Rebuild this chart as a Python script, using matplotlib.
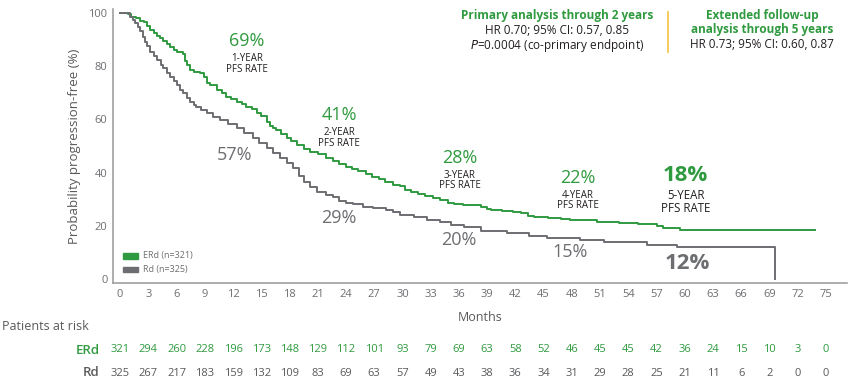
import matplotlib
matplotlib.use("Agg")
import matplotlib.pyplot as plt
import matplotlib.transforms as mtransforms
from matplotlib.patches import Rectangle

plt.rcParams['font.family'] = ['Open Sans', 'DejaVu Sans']

green = "#2f9a3f"
gray = "#6d6e71"
dark = "#231f20"

# Kaplan-Meier steps (month, % progression-free)
erd_t = [0, 0.8, 1.2, 1.7, 2.1, 2.5, 2.9, 3.2, 3.6, 3.9, 4.2, 4.6, 5.0, 5.3, 5.7, 6.0,
         6.7, 6.9, 7.1, 7.4, 7.8, 8.5, 8.9, 9.2, 9.6, 10.3, 10.8, 11.3, 11.8, 12.4, 12.9,
         13.4, 14.0, 14.5, 15.0, 15.6, 15.9, 16.3, 16.6, 17.1, 17.7, 18.2, 18.8, 19.5,
         20.2, 21.0, 21.9, 22.6, 23.3, 24.0, 24.6, 25.3, 26.1, 26.8, 27.5, 28.2, 29.0,
         29.7, 30.3, 30.9, 31.7, 32.4, 33.2, 34.0, 34.8, 35.5, 36.4, 38.3, 39.0, 39.4,
         40.6, 41.8, 42.6, 43.3, 44.0, 45.5, 46.8, 47.8, 50.7, 53.0, 55.0, 57.0, 57.7,
         59.5, 73.8]
erd_s = [100, 99.5, 98.7, 98, 97.2, 96.5, 95, 93.7, 92.5, 91.5, 90.6, 89.5, 88.3, 87.4,
         86.2, 85.3, 84.5, 82, 80.5, 78.6, 78, 77.4, 76, 73.6, 72.8, 71.1, 70, 68.6, 67.7,
         66.7, 65.8, 64.8, 63.8, 62.3, 61.2, 59.2, 57.5, 56.8, 56, 54.5, 52.9, 51.8, 50.4,
         48.8, 47.9, 46.8, 45.4, 44.3, 43.2, 42, 41.3, 40.5, 39.4, 38.5, 37.4, 36.5, 35.5,
         35, 33.6, 32.8, 31.8, 31, 30.4, 29.5, 28.6, 28.2, 27.6, 27.1, 26.4, 25.9, 25.4,
         25, 24.6, 23.8, 23.1, 22.8, 22.4, 22.1, 21.5, 21.1, 20.6, 20, 19.2, 18.3, 18.3]

rd_t = [0, 1.1, 1.4, 1.6, 1.9, 2.1, 2.4, 2.65, 2.9, 3.2, 3.6, 3.9, 4.3, 4.6, 5.0, 5.3,
        5.7, 6.0, 6.4, 6.7, 7.1, 7.4, 7.8, 8.1, 8.6, 9.2, 9.9, 10.6, 11.5, 12.4, 13.2,
        14.1, 14.8, 15.6, 16.3, 17.0, 17.7, 18.4, 19.0, 19.5, 20.2, 20.9, 21.9, 22.6,
        23.3, 24.0, 24.7, 25.8, 26.9, 28.3, 29.0, 29.7, 31.2, 32.6, 34.0, 35.2, 36.5,
        38.3, 41.1, 43.5, 45.4, 48.9, 51.4, 56.0, 59.2, 69.6, 69.6]
rd_s = [100, 98.7, 97.5, 96.2, 94.8, 93.1, 91.2, 89.3, 87.5, 85.5, 83.8, 82.4, 80.5,
        79.3, 77.5, 76.1, 74.5, 73, 71.2, 69.9, 68.2, 66.7, 65.5, 64.8, 63.5, 62.3, 61,
        59.8, 58.2, 56.7, 54.8, 52.9, 51, 49.1, 47.2, 45.4, 43.5, 41.6, 38.8, 36.5, 34.6,
        32.8, 31.5, 30.9, 29.4, 28.4, 28.1, 27.2, 26.5, 25.9, 25, 24, 23.4, 22.1, 21.3,
        20.4, 19.6, 18.1, 17.1, 16.3, 15.2, 14.6, 13.9, 12.7, 11.8, 11.8, 0]

months = list(range(0, 76, 3))
erd_risk = [321, 294, 260, 228, 196, 173, 148, 129, 112, 101, 93, 79, 69, 63, 58, 52,
            46, 45, 45, 42, 36, 24, 15, 10, 3, 0]
rd_risk = [325, 267, 217, 183, 159, 132, 109, 83, 69, 63, 57, 49, 43, 38, 36, 34, 31,
           29, 28, 25, 21, 11, 6, 2, 0, 0]

fig = plt.figure(figsize=(8.5, 3.81), dpi=100)
ax = fig.add_axes([0.133, 0.257, 0.863, 0.719])

ax.step(erd_t, erd_s, where='post', color=green, lw=1.4)
ax.step(rd_t, rd_s, where='post', color=gray, lw=1.4)

ax.set_xlim(-0.75, 77.2)
ax.set_ylim(-1.6, 101.5)
ax.set_xticks(months)
ax.set_yticks([0, 20, 40, 60, 80, 100])
ax.tick_params(length=0, labelsize=8, colors="#6d6e71", pad=4)
for s in ['top', 'right']:
    ax.spines[s].set_visible(False)
for s in ['left', 'bottom']:
    ax.spines[s].set_color("#9d9fa2")
    ax.spines[s].set_linewidth(1.2)

ax.set_ylabel("Probability progression-free (%)", fontsize=9.5, color="#58595b", labelpad=5)
ax.set_xlabel("Months", fontsize=9, color="#58595b", labelpad=8)

# legend
ax.add_patch(Rectangle((0.3, 7.6), 1.6, 2.2, color=green, clip_on=False))
ax.add_patch(Rectangle((0.3, 2.4), 1.6, 2.2, color=gray, clip_on=False))
ax.text(2.4, 8.7, "ERd (n=321)", fontsize=6.5, color="#6d6e71", va='center')
ax.text(2.4, 3.5, "Rd (n=325)", fontsize=6.5, color="#6d6e71", va='center')

# landmark labels
def rate(x, y, pct, years, col, big=False):
    ax.text(x, y, pct, color=col, fontsize=16 if big else 13, ha='center', va='center',
            fontweight='bold' if big else 'normal')
    if years:
        ax.text(x, y - (10 if big else 8.5), f"{years}-YEAR\nPFS RATE", color=dark,
                fontsize=8.3 if big else 7, ha='center', va='center', linespacing=0.95)

rate(13.5, 89.4, "69%", 1, green)
rate(23.3, 61.5, "41%", 2, green)
rate(36.1, 45.5, "28%", 3, green)
rate(48.6, 38.0, "22%", 4, green)
rate(60.1, 39.0, "18%", 5, green, big=True)
rate(12.2, 46.6, "57%", None, gray)
rate(23.2, 22.8, "29%", None, gray)
rate(36.0, 14.6, "20%", None, gray)
rate(47.8, 10.1, "15%", None, gray)
rate(60.3, 5.8, "12%", None, gray, big=True)

# header boxes
fig.text(557 / 850, 1 - 16 / 381, "Primary analysis through 2 years", color=green,
         fontsize=8.5, fontweight='bold', ha='center', va='center')
fig.text(557 / 850, 1 - 30 / 381, "HR 0.70; 95% CI: 0.57, 0.85", color=dark,
         fontsize=8.5, ha='center', va='center')
fig.text(557 / 850, 1 - 45 / 381, "$\\it{P}$=0.0004 (co-primary endpoint)", color=dark,
         fontsize=8.5, ha='center', va='center')
fig.add_artist(plt.Line2D([668 / 850, 668 / 850], [1 - 12 / 381, 1 - 52 / 381],
                          color="#f5c242", lw=1.2))
fig.text(762 / 850, 1 - 16 / 381, "Extended follow-up", color=green,
         fontsize=8.5, fontweight='bold', ha='center', va='center')
fig.text(762 / 850, 1 - 30 / 381, "analysis through 5 years", color=green,
         fontsize=8.5, fontweight='bold', ha='center', va='center')
fig.text(762 / 850, 1 - 45 / 381, "HR 0.73; 95% CI: 0.60, 0.87", color=dark,
         fontsize=8.5, ha='center', va='center')

# patients at risk table
tr = mtransforms.blended_transform_factory(ax.transData, fig.transFigure)
fig.text(2 / 850, 1 - 326 / 381, "Patients at risk", fontsize=9, color="#58595b", va='center')
fig.text(100 / 850, 1 - 350 / 381, "ERd", fontsize=9.5, color=green, fontweight='semibold',
         ha='right', va='center')
fig.text(100 / 850, 1 - 373 / 381, "Rd", fontsize=9.5, color="#58595b", fontweight='semibold',
         ha='right', va='center')
for m, a, b in zip(months, erd_risk, rd_risk):
    ax.text(m, 1 - 350 / 381, str(a), transform=tr, fontsize=8, color=green,
            ha='center', va='center')
    ax.text(m, 1 - 373 / 381, str(b), transform=tr, fontsize=8, color="#58595b",
            ha='center', va='center')

fig.savefig("out.png", dpi=100)
